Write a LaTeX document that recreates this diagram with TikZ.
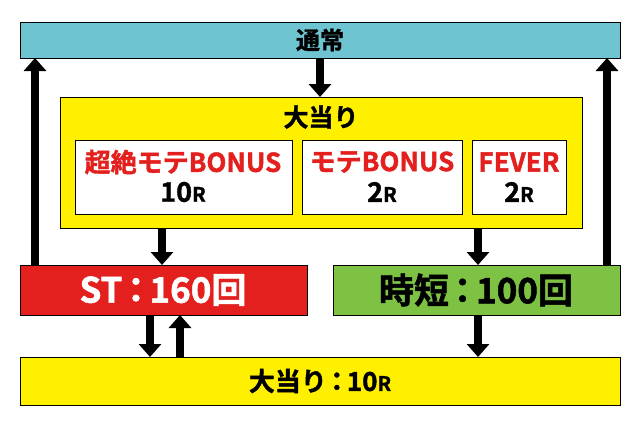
\documentclass[tikz,border=0pt]{standalone}
\usepackage{fontspec}
\setmainfont{Noto Sans CJK JP}[BoldFont={* Bold},BoldFeatures={FakeBold=1.5}]
\usetikzlibrary{arrows.meta}
\definecolor{cyanbar}{HTML}{6EC4D0}
\definecolor{yel}{HTML}{FFF000}
\definecolor{redbox}{HTML}{E3201E}
\definecolor{grn}{HTML}{7DC243}
\definecolor{redtxt}{HTML}{E3201E}
\tikzset{
 box/.style={draw=black,line width=1pt,inner sep=0pt},
 arr/.style={line width=8pt,-{Triangle[length=13pt,width=22pt]}},
}
\begin{document}
\begin{tikzpicture}[x=1pt,y=-1pt]
\useasboundingbox (0,0) rectangle (640,421);
\fill[white] (0,0) rectangle (640,421);
% top bar
\draw[box,fill=cyanbar] (20,22) rectangle (620,58);
\node[font=\bfseries\fontsize{24}{24}\selectfont] (tsujo) at (320,40) {通常};
% big yellow box
\draw[box,fill=yel] (60,97) rectangle (582,228);
\node[font=\bfseries\fontsize{25}{25}\selectfont] (oatari) at (321,117) {大当り};
\draw[box,fill=white] (75,140) rectangle (292,214);
\draw[box,fill=white] (302,140) rectangle (462,214);
\draw[box,fill=white] (472,140) rectangle (566,214);
\node[font=\bfseries\fontsize{26}{26}\selectfont,text=redtxt] (b1) at (183,162) {超絶モテBONUS};
\node[font=\bfseries\fontsize{27}{27}\selectfont] (r1) at (183,192) {10{\fontsize{20}{20}\selectfont R}};
\node[font=\bfseries\fontsize{26}{26}\selectfont,text=redtxt] (b2) at (382,162) {モテBONUS};
\node[font=\bfseries\fontsize{27}{27}\selectfont] (r2) at (382,192) {2{\fontsize{20}{20}\selectfont R}};
\node[font=\bfseries\fontsize{26}{26}\selectfont,text=redtxt] (b3) at (519,162) {FEVER};
\node[font=\bfseries\fontsize{27}{27}\selectfont] (r3) at (519,192) {2{\fontsize{20}{20}\selectfont R}};
% ST and jitan
\draw[box,fill=redbox] (20,265) rectangle (307,315);
\node[font=\bfseries\fontsize{35}{35}\selectfont,text=white] (st) at (163,290) {ST\kern-4pt：\kern-4pt160回};
\draw[box,fill=grn] (333,265) rectangle (620,315);
\node[font=\bfseries\fontsize{35}{35}\selectfont] (jt) at (476,290) {時短\kern-4pt：\kern-4pt100回};
% bottom
\draw[box,fill=yel] (20,357) rectangle (620,405);
\node[font=\bfseries\fontsize{26}{26}\selectfont] (bot) at (320,381) {大当り\kern-3pt：\kern-3pt10{\fontsize{20}{20}\selectfont R}};
% arrows
\coordinate (a1s) at (35,265); \coordinate (a1e) at (35,58);
\coordinate (a2s) at (607,265); \coordinate (a2e) at (607,58);
\draw[arr] (a1s) -- (a1e);
\draw[arr] (a2s) -- (a2e);
\coordinate (c1) at (320,58); \coordinate (c2) at (320,97);
\draw[arr] (c1) -- (c2);
\coordinate (d1) at (162,228); \coordinate (d2) at (162,265);
\draw[arr] (d1) -- (d2);
\coordinate (e1) at (478,228); \coordinate (e2) at (478,265);
\draw[arr] (e1) -- (e2);
\coordinate (f1) at (150,315); \coordinate (f2) at (150,357);
\draw[arr] (f1) -- (f2);
\coordinate (g1) at (180,357); \coordinate (g2) at (180,315);
\draw[arr] (g1) -- (g2);
\coordinate (h1) at (478,315); \coordinate (h2) at (478,357);
\draw[arr] (h1) -- (h2);
\end{tikzpicture}
\end{document}
